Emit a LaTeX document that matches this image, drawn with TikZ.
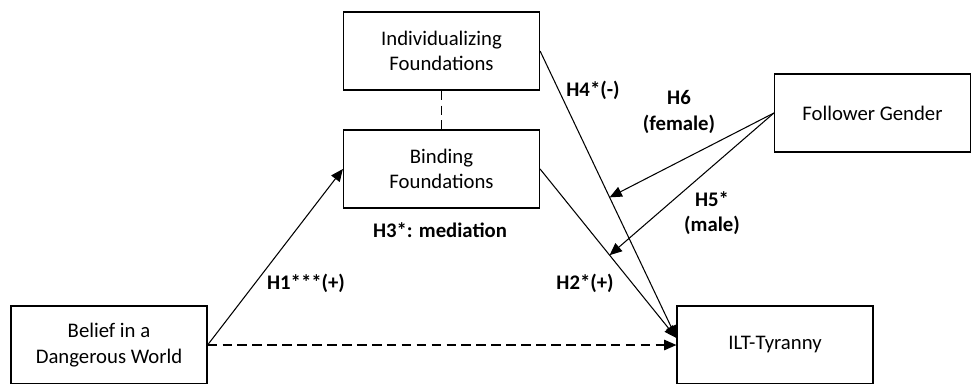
\documentclass[tikz,border=0pt]{standalone}
\usepackage{fontspec}
\setmainfont{Carlito}
\usetikzlibrary{arrows.meta,calc}

\begin{document}
\begin{tikzpicture}[x=0.02cm, y=-0.02cm,
  varbox/.style={draw, line width=0.7pt, minimum width=3.92cm, minimum height=1.56cm,
    align=center, inner sep=2pt, font=\fontsize{11.8}{14.6}\selectfont},
  hyplabel/.style={align=center, font=\fontsize{11.8}{14.6}\selectfont\bfseries},
  path/.style={line width=0.6pt},
  effect/.style={path, -{Triangle[length=7pt, width=6pt]}},
  assoc/.style={path, dash pattern=on 5.5pt off 3pt}]

\useasboundingbox (0,0) rectangle (971,383);

% Variables
\node[varbox] (indiv) at (441.5,51) {Individualizing\\Foundations};
\node[varbox] (binding) at (441.5,169) {Binding\\Foundations};
\node[varbox] (belief) at (109,345) {Belief in a\\Dangerous World};
\node[varbox] (tyranny) at (775,345) {ILT-Tyranny};
\node[varbox] (gender) at (872.5,113) {Follower Gender};

% Paths
\draw[assoc] (indiv) -- (binding);
\draw[effect] (belief.east) -- (binding.west);
\draw[effect, assoc] (belief.east) -- (tyranny.west);
\draw[effect] (binding.east) -- coordinate[pos=0.51] (modtwo) ([yshift=4pt]tyranny.west);
\draw[effect] (indiv.east) -- coordinate[pos=0.51] (modfour) ([yshift=4pt]tyranny.west);

% Moderation by gender
\draw[effect] (gender.west) -- (modfour);
\draw[effect] (gender.west) -- (modtwo);

% Labels
\node[hyplabel] (hone) at (306,283) {H1***(+)};
\node[hyplabel] (htwo) at (585,283) {H2*(+)};
\node[hyplabel] (hthree) at (440,230) {H3*: mediation};
\node[hyplabel] (hfour) at (593,90) {H4*(-)};
\node[hyplabel] (hfive) at (712,213) {H5*\\(male)};
\node[hyplabel] (hsix) at (679,112) {H6\\(female)};

\end{tikzpicture}
\end{document}
